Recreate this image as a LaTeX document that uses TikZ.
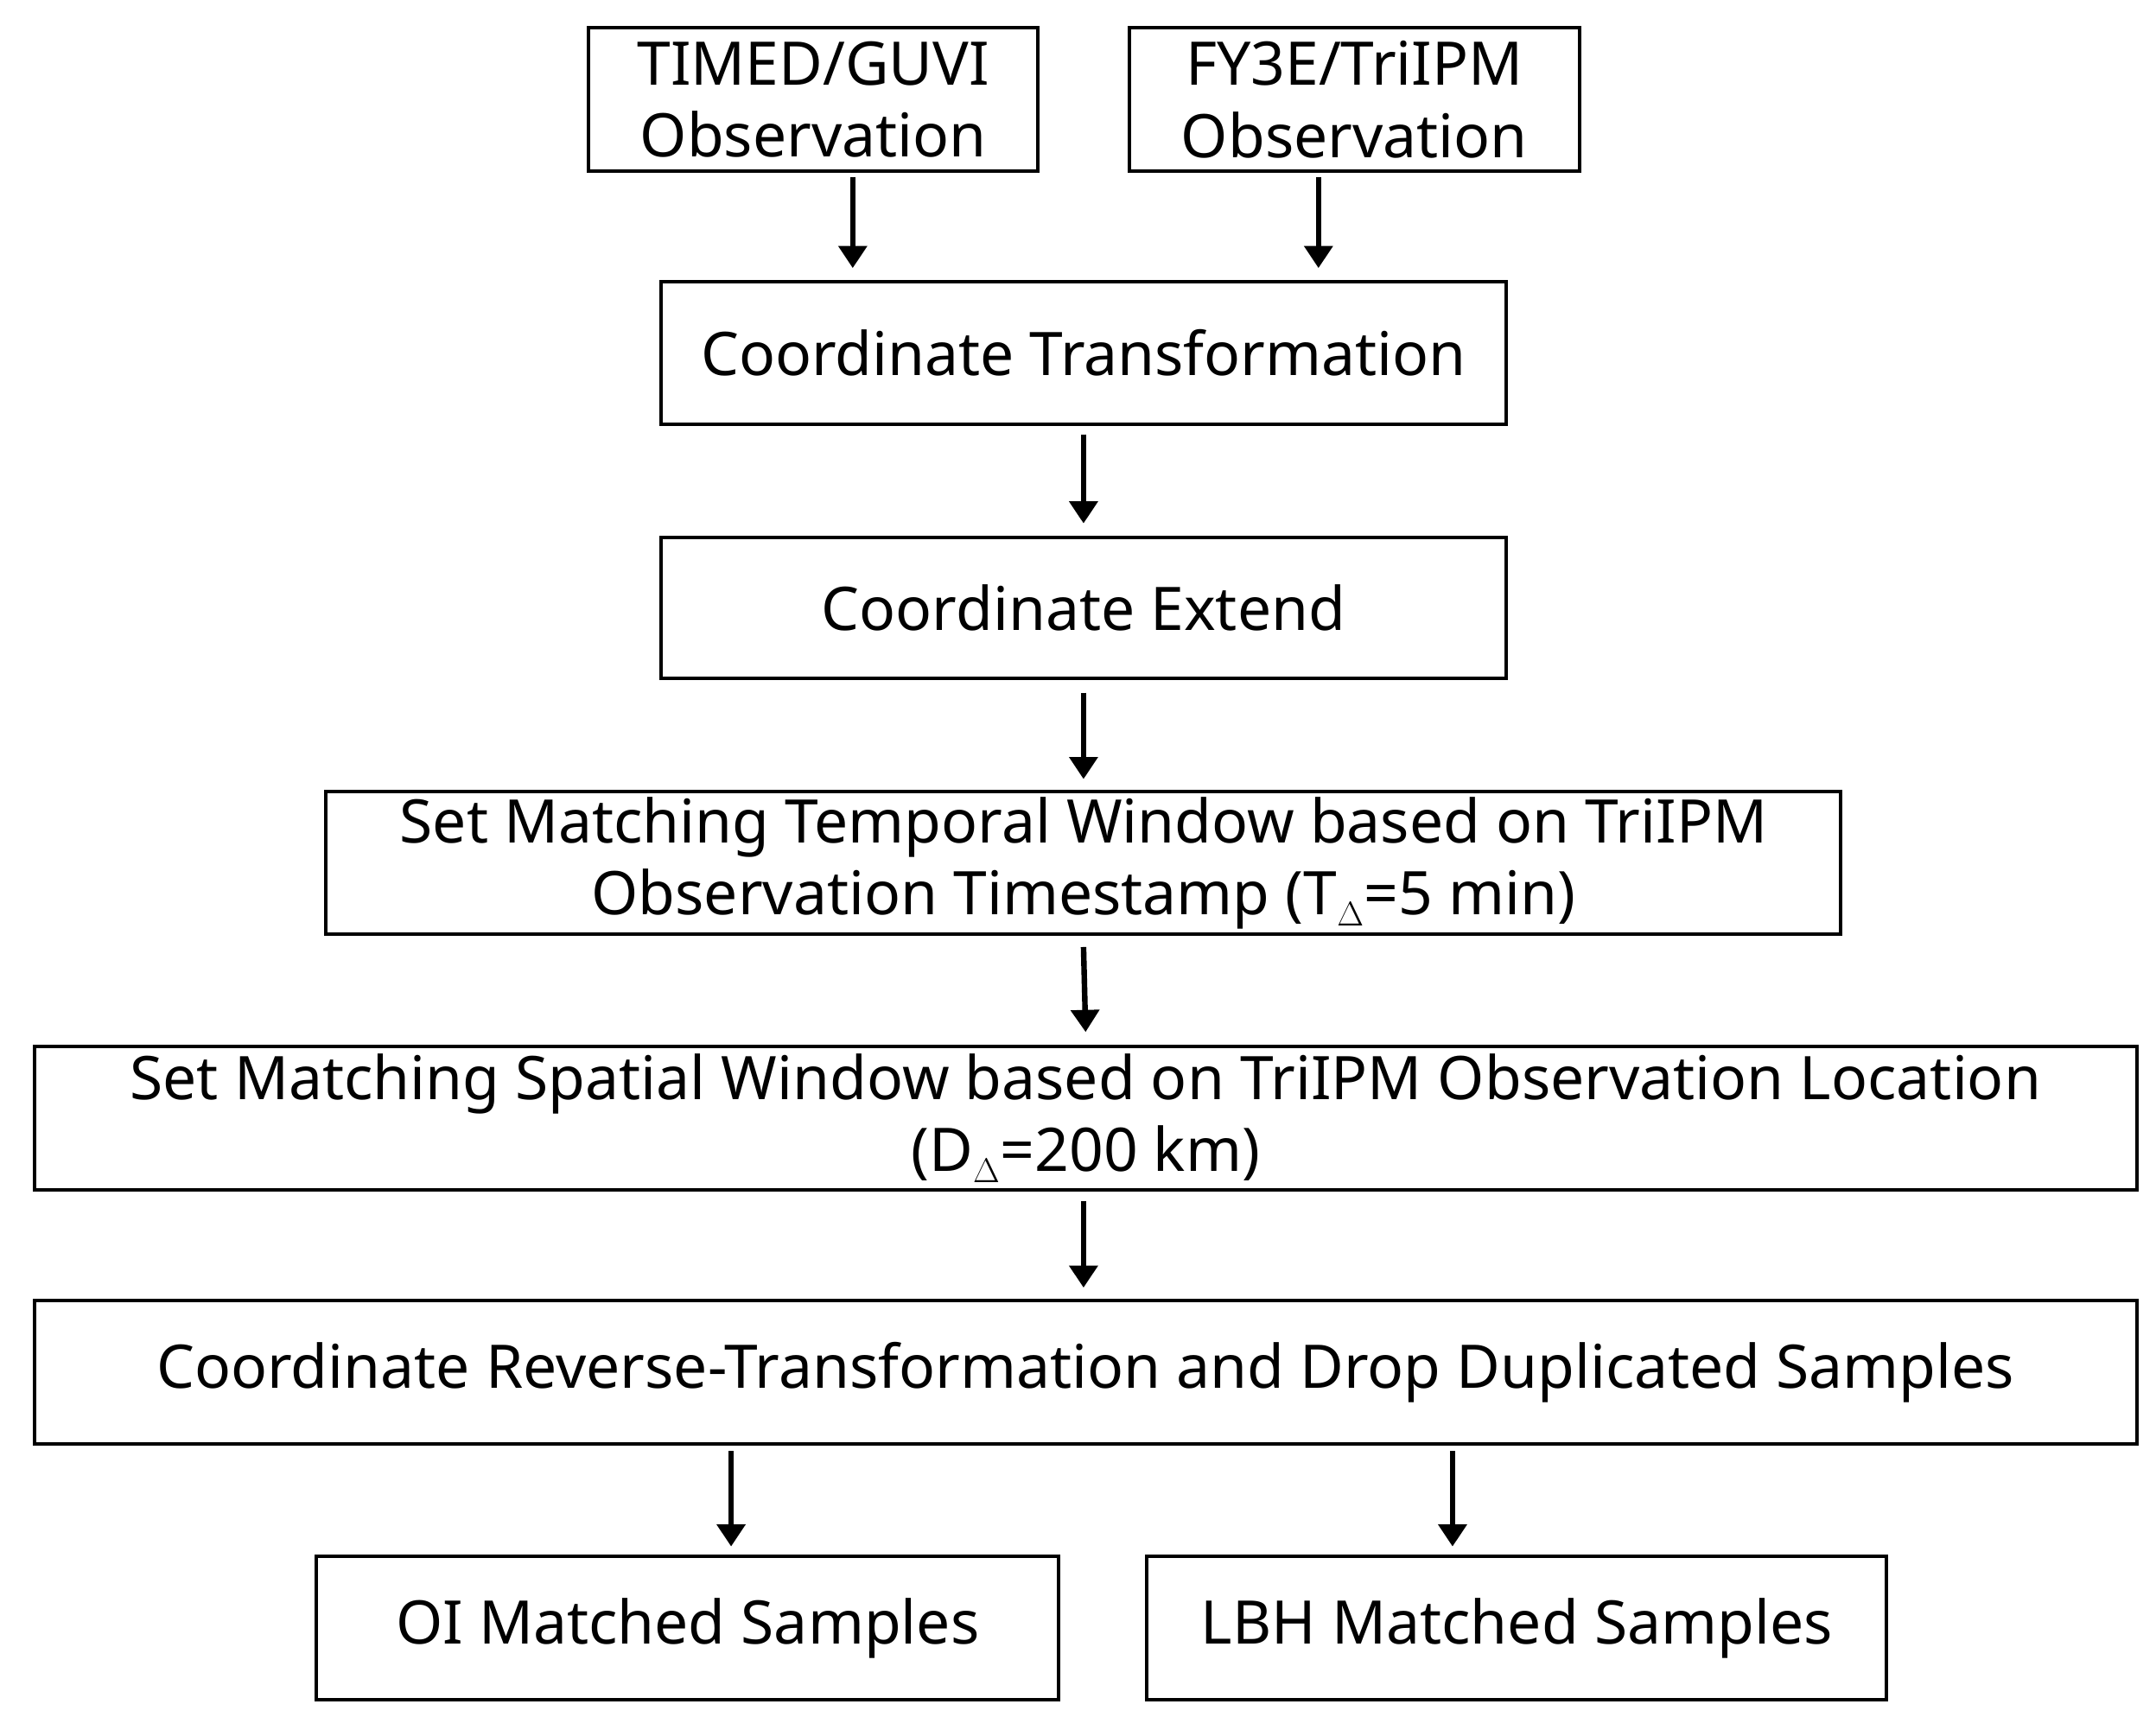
\documentclass[tikz,border=0pt]{standalone}
\usepackage{fontspec}
\setmainfont{Noto Sans}
\usetikzlibrary{arrows.meta}
\begin{document}
\begin{tikzpicture}[x=1pt,y=-1pt,
  box/.style={draw,line width=2.5pt,inner sep=0pt,align=center,font=\fontsize{43.5}{52}\selectfont},
  arr/.style={line width=4pt,-{Triangle[length=16pt,width=20pt]}}]
\useasboundingbox (0,0) rectangle (1560,1242);
\node[box,minimum width=325pt,minimum height=104pt] (a) at (588.5,72) {TIMED/GUVI\\Observation};
\node[box,minimum width=326pt,minimum height=104pt] (b) at (980,72) {FY3E/TriIPM\\Observation};
\node[box,minimum width=612pt,minimum height=103pt] (c) at (784,255.5) {Coordinate Transformation};
\node[box,minimum width=612pt,minimum height=102pt] (d) at (784,440) {Coordinate Extend};
\node[box,minimum width=1096pt,minimum height=103pt] (e) at (784,624.5) {Set Matching Temporal Window based on TriIPM\\Observation Timestamp (T$_\Delta$=5 min)};
\node[box,minimum width=1521pt,minimum height=104pt] (f) at (785.5,809) {Set Matching Spatial Window based on TriIPM Observation Location\\(D$_\Delta$=200 km)};
\node[box,minimum width=1521pt,minimum height=104pt] (g) at (785.5,993) {Coordinate Reverse-Transformation and Drop Duplicated Samples};
\node[box,minimum width=537pt,minimum height=104pt] (h) at (497.5,1178) {OI Matched Samples};
\node[box,minimum width=535pt,minimum height=104pt] (i) at (1097.5,1178) {LBH Matched Samples};
\coordinate (a1) at (617,128); \coordinate (a2) at (617,194);
\coordinate (b1) at (954,128); \coordinate (b2) at (954,194);
\coordinate (h1) at (529,1050); \coordinate (h2) at (529,1119);
\coordinate (i1) at (1051,1050); \coordinate (i2) at (1051,1119);
\draw[arr] (a1) -- (a2);
\draw[arr] (b1) -- (b2);
\draw[arr] ([yshift=-6pt]c.south) -- ([yshift=9pt]d.north);
\draw[arr] ([yshift=-9pt]d.south) -- ([yshift=8pt]e.north);
\draw[arr] ([yshift=-8pt]e.south) -- ([yshift=9pt]f.north);
\draw[arr] ([xshift=-1.5pt,yshift=-7pt]f.south) -- ([xshift=-1.5pt,yshift=8pt]g.north);
\draw[arr] (h1) -- (h2);
\draw[arr] (i1) -- (i2);
\end{tikzpicture}
\end{document}
